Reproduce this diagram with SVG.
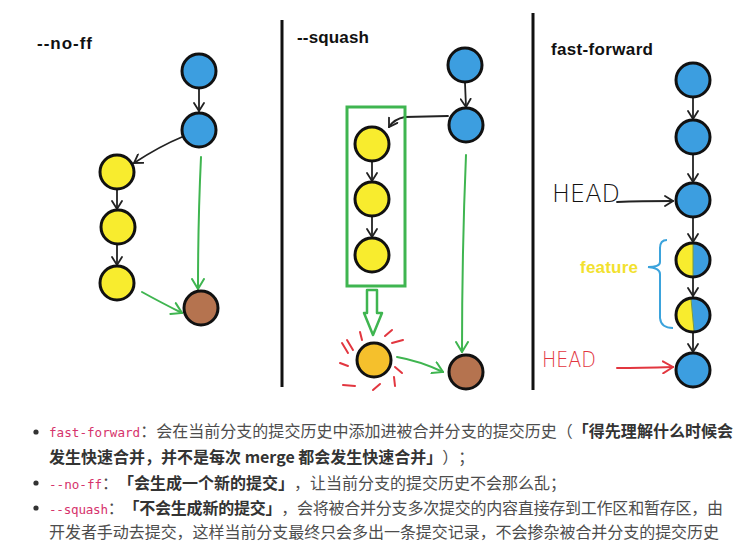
<svg xmlns="http://www.w3.org/2000/svg" width="754" height="557" viewBox="0 0 754 557">
<defs>
<style>
.n{stroke:#111;stroke-width:3}
.blue{fill:#3c9ee0}
.yel{fill:#f8ec2e}
.brown{fill:#b5734f}
.org{fill:#f5c02c}
.bk{fill:none;stroke:#222;stroke-width:1.8;stroke-linecap:round}
.gr{fill:none;stroke:#3fb550;stroke-width:2;stroke-linecap:round}
.rd{fill:none;stroke:#e2363f;stroke-width:2;stroke-linecap:round}
.title{font-family:"Liberation Sans",Arial,sans-serif;font-weight:bold;font-size:17px;fill:#111}
.t{font-family:"Noto Sans CJK SC","Noto Sans",sans-serif;font-size:16px;fill:#4d4d4d;text-spacing-trim:space-all}
.b{font-weight:bold;fill:#333}
.c{font-family:"DejaVu Sans Mono","Liberation Mono",monospace;font-size:12.6px;fill:#d6336c}
.div{stroke:#111;stroke-width:3}
</style>
<marker id="ak" viewBox="0 0 10 12" refX="9" refY="6" markerWidth="10" markerHeight="12" markerUnits="userSpaceOnUse" orient="auto"><path d="M1,1 L9,6 L1,11" fill="none" stroke="#222" stroke-width="1.8" stroke-linecap="round"/></marker>
<marker id="ag" viewBox="0 0 12 14" refX="11" refY="7" markerWidth="12" markerHeight="14" markerUnits="userSpaceOnUse" orient="auto"><path d="M1,1 L11,7 L1,13" fill="none" stroke="#3fb550" stroke-width="2" stroke-linecap="round"/></marker>
<marker id="ar" viewBox="0 0 12 14" refX="11" refY="7" markerWidth="12" markerHeight="14" markerUnits="userSpaceOnUse" orient="auto"><path d="M1,1 L11,7 L1,13" fill="none" stroke="#e2363f" stroke-width="2" stroke-linecap="round"/></marker>
</defs>
<rect width="754" height="557" fill="#fff"/>

<!-- dividers -->
<line class="div" x1="282" y1="20" x2="282" y2="387"/>
<line class="div" x1="533" y1="13" x2="533" y2="390"/>

<!-- titles -->
<text class="title" x="37" y="49" textLength="55">--no-ff</text>
<text class="title" x="297" y="43" textLength="72">--squash</text>
<text class="title" x="551" y="55" textLength="102">fast-forward</text>

<g id="connectors">
  <!-- no-ff -->
  <line class="bk" x1="199" y1="89" x2="199" y2="111" marker-end="url(#ak)"/>
  <path class="bk" d="M182,137 Q160,146 134,163" marker-end="url(#ak)"/>
  <line class="bk" x1="117" y1="190" x2="117" y2="209" marker-end="url(#ak)"/>
  <line class="bk" x1="117" y1="245" x2="117" y2="265" marker-end="url(#ak)"/>
  <path class="gr" d="M201,157 Q198,220 198,289" marker-end="url(#ag)"/>
  <path class="gr" d="M142,292 Q160,302 182,313" marker-end="url(#ag)"/>
  <!-- squash -->
  <line class="bk" x1="465" y1="83" x2="466" y2="107" marker-end="url(#ak)"/>
  <path class="bk" d="M448,116 L405,117 Q394,119 389,127" marker-end="url(#ak)"/>
  <line class="bk" x1="372" y1="162" x2="372" y2="181" marker-end="url(#ak)"/>
  <line class="bk" x1="372" y1="217" x2="372" y2="237" marker-end="url(#ak)"/>
  <path class="gr" d="M466,155 Q462,250 462,352" marker-end="url(#ag)"/>
  <path class="gr" d="M397,357 Q420,361 443,372" marker-end="url(#ag)"/>
  <path d="M367,290 H377 V313 H382 L373,335 L364,313 H367 Z" fill="#fff" stroke="#3fb550" stroke-width="2.5" stroke-linejoin="round"/>
  <!-- fast-forward -->
  <line class="bk" x1="693" y1="98" x2="693" y2="119" marker-end="url(#ak)"/>
  <line class="bk" x1="693" y1="155" x2="693" y2="182" marker-end="url(#ak)"/>
  <line class="bk" x1="693" y1="218" x2="693" y2="242" marker-end="url(#ak)"/>
  <line class="bk" x1="693" y1="278" x2="693" y2="296" marker-end="url(#ak)"/>
  <line class="bk" x1="693" y1="333" x2="693" y2="352" marker-end="url(#ak)"/>
  <path class="bk" d="M617,202 Q640,201 673,201" marker-end="url(#ak)"/>
  <path class="rd" d="M617,368 Q640,368 673,367" marker-end="url(#ar)"/>
  <path d="M667,240 Q660,240 660,248 L660,262 Q660,267 648,267 Q660,268 660,274 L660,318 Q661,328 673,328" fill="none" stroke="#3ba3dc" stroke-width="2"/>
</g>

<!-- squash box -->
<rect x="347" y="107" width="58" height="179" fill="none" stroke="#3fb550" stroke-width="3"/>

<!-- red rays -->
<g id="rays" class="rd">
  <line x1="342" y1="343" x2="348" y2="353"/>
  <line x1="347" y1="340" x2="353" y2="350"/>
  <line x1="360" y1="332" x2="362" y2="340"/>
  <line x1="385" y1="336" x2="392" y2="330"/>
  <line x1="392" y1="343" x2="403" y2="340"/>
  <line x1="340" y1="363" x2="348" y2="366"/>
  <line x1="395" y1="367" x2="402" y2="373"/>
  <line x1="394" y1="377" x2="395" y2="386"/>
  <line x1="343" y1="385" x2="355" y2="386"/>
  <line x1="373" y1="390" x2="380" y2="384"/>
</g>

<!-- no-ff nodes -->
<g id="nf-a"><circle class="n blue" cx="199" cy="71" r="17"/></g>
<g id="nf-b"><circle class="n blue" cx="199" cy="130" r="17"/></g>
<g id="nf-y1"><circle class="n yel" cx="117" cy="172" r="17"/></g>
<g id="nf-y2"><circle class="n yel" cx="118" cy="227" r="17"/></g>
<g id="nf-y3"><circle class="n yel" cx="117" cy="283" r="17"/></g>
<g id="nf-m"><circle class="n brown" cx="201" cy="308" r="17"/></g>

<!-- squash nodes -->
<g id="sq-a"><circle class="n blue" cx="465" cy="65" r="17"/></g>
<g id="sq-b"><circle class="n blue" cx="466" cy="125" r="17"/></g>
<g id="sq-y1"><circle class="n yel" cx="372" cy="144" r="17"/></g>
<g id="sq-y2"><circle class="n yel" cx="372" cy="199" r="17"/></g>
<g id="sq-y3"><circle class="n yel" cx="372" cy="255" r="17"/></g>
<g id="sq-s"><circle class="n org" cx="374" cy="360" r="17"/></g>
<g id="sq-m"><circle class="n brown" cx="466" cy="372" r="17"/></g>

<!-- fast-forward nodes -->
<g id="ff-1"><circle class="n blue" cx="693" cy="80" r="17"/></g>
<g id="ff-2"><circle class="n blue" cx="693" cy="137" r="17"/></g>
<g id="ff-3"><circle class="n blue" cx="693" cy="200" r="17"/></g>
<g id="ff-4">
  <path d="M693,243 A17,17 0 0 0 693,277 Z" fill="#f8ec2e"/>
  <path d="M693,243 A17,17 0 0 1 693,277 Z" fill="#3c9ee0"/>
  <line x1="693" y1="244" x2="693" y2="276" stroke="#7a9a40" stroke-width="1"/>
  <circle cx="693" cy="260" r="17" fill="none" stroke="#111" stroke-width="3"/>
</g>
<g id="ff-5">
  <path d="M691,298 A17,17 0 0 0 694,332 Z" fill="#f8ec2e"/>
  <path d="M691,298 A17,17 0 0 1 694,332 Z" fill="#3c9ee0"/>
  <line x1="691" y1="299" x2="694" y2="331" stroke="#7a9a40" stroke-width="1"/>
  <circle cx="693" cy="315" r="17" fill="none" stroke="#111" stroke-width="3"/>
</g>
<g id="ff-6"><circle class="n blue" cx="693" cy="370" r="17"/></g>

<!-- labels -->
<text x="552" y="202" font-family="DejaVu Sans, sans-serif" font-weight="200" font-size="24" fill="#111" textLength="68" lengthAdjust="spacingAndGlyphs">HEAD</text>
<text x="542" y="367" font-family="DejaVu Sans, sans-serif" font-weight="200" font-size="21" fill="#e2363f" textLength="54" lengthAdjust="spacingAndGlyphs">HEAD</text>
<text x="580" y="273" font-family="Liberation Sans, Arial, sans-serif" font-weight="bold" font-size="17" fill="#f2e12e" textLength="58">feature</text>

<!-- bullet text -->
<g id="notes">
  <circle cx="36" cy="432" r="2.6" fill="#333"/>
  <circle cx="36" cy="483" r="2.6" fill="#333"/>
  <circle cx="36" cy="508" r="2.6" fill="#333"/>
  <text class="t" x="49" y="437" textLength="684"><tspan class="c">fast-forward</tspan>：会在当前分支的提交历史中添加进被合并分支的提交历史（<tspan class="b">「得先理解什么时候会</tspan></text>
  <text class="t" x="49" y="463"><tspan class="b">发生快速合并，并不是每次 merge 都会发生快速合并」</tspan>）；</text>
  <text class="t" x="49" y="489"><tspan class="c">--no-ff</tspan>：<tspan class="b">「会生成一个新的提交」</tspan>，让当前分支的提交历史不会那么乱；</text>
  <text class="t" x="49" y="514" textLength="674"><tspan class="c">--squash</tspan>：<tspan class="b">「不会生成新的提交」</tspan>，会将被合并分支多次提交的内容直接存到工作区和暂存区，由</text>
  <text class="t" x="49" y="538" textLength="670">开发者手动去提交，这样当前分支最终只会多出一条提交记录，不会掺杂被合并分支的提交历史</text>
</g>
</svg>
